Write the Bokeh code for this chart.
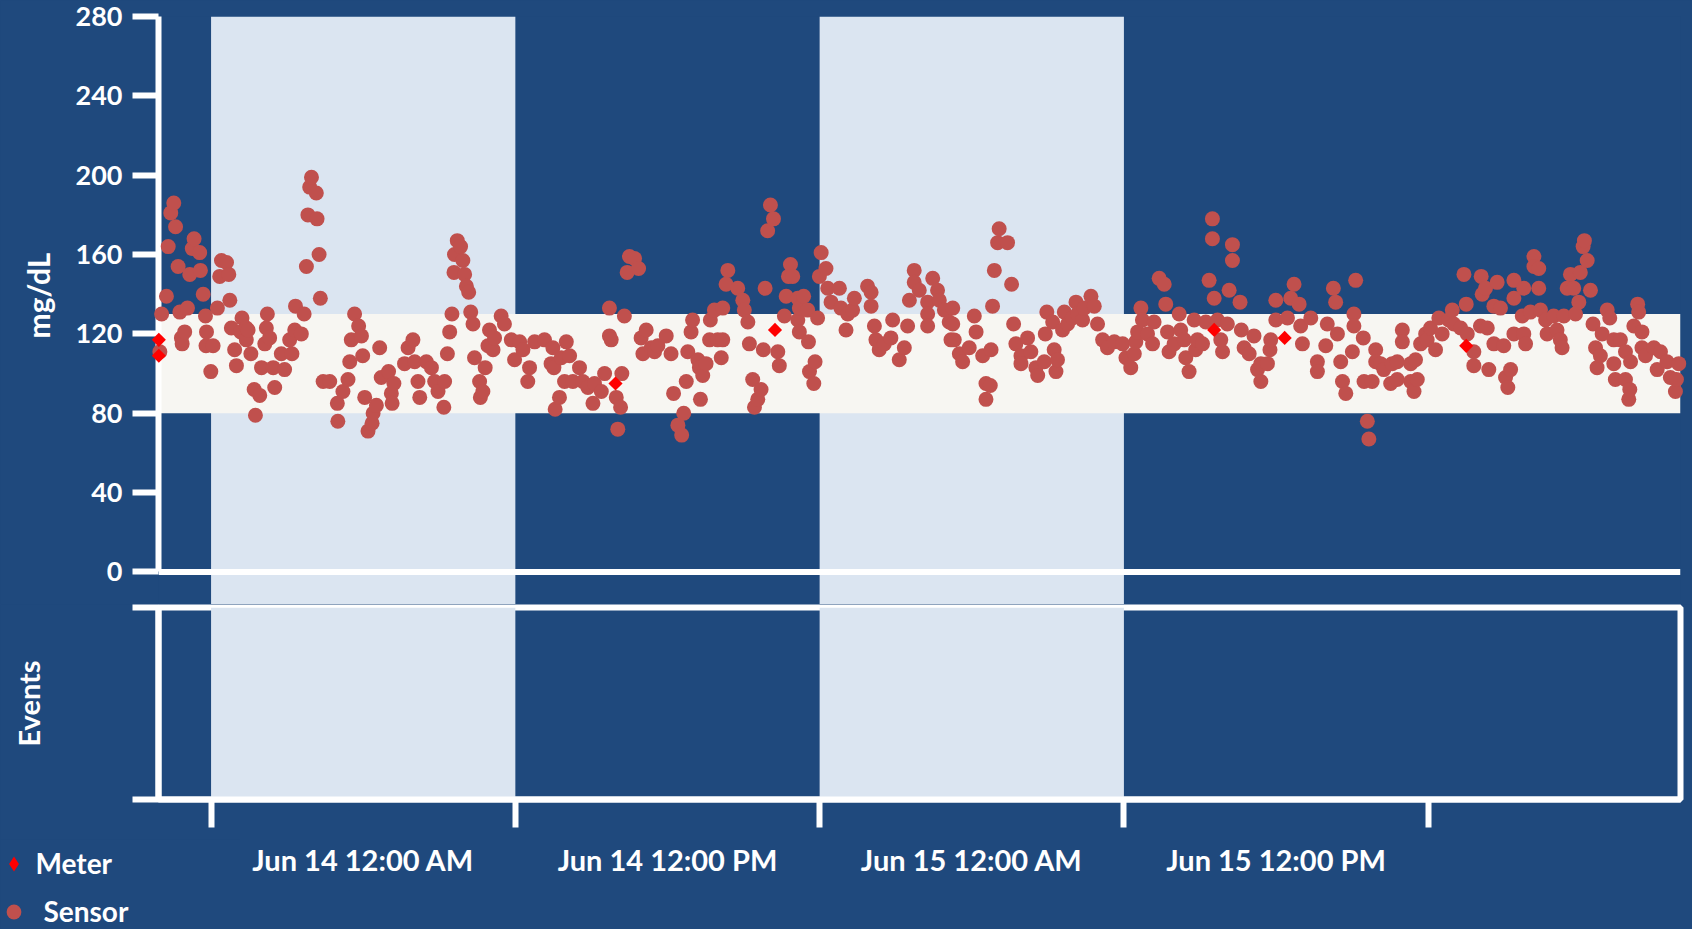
import numpy as np
import pandas as pd
from bokeh.plotting import figure
from bokeh.layouts import column
from bokeh.models import (Range1d, FixedTicker, BoxAnnotation, Span, Legend,
                          LegendItem, Title)
from bokeh.embed import file_html
from bokeh.resources import INLINE

# ---------------------------------------------------------------- data
# Sensor glucose readings: hours after Jun 14 12:00 AM, value in mg/dL
sensor_hours = [
    -2.02, -1.95, -1.76, -1.69, -1.59, -1.47, -1.40, -1.30, -1.23, -1.17,
    -1.14, -1.04, -0.93, -0.84, -0.74, -0.67, -0.45, -0.42, -0.31, -0.22,
    -0.20, -0.18, -0.01, 0.08,
    0.25, 0.34, 0.41, 0.61, 0.70, 0.74, 0.80, 0.93, 1.00, 1.17,
    1.22, 1.39, 1.39, 1.46, 1.57, 1.70, 1.75, 1.92, 1.99, 2.12,
    2.18, 2.22, 2.31, 2.45, 2.51, 2.77, 2.90, 3.10, 3.19, 3.30,
    3.33, 3.56, 3.67, 3.76, 3.82, 3.89, 3.96, 4.15, 4.18, 4.26,
    4.31, 4.42, 4.68, 4.98, 5.00, 5.20, 5.40, 5.47, 5.53, 5.66,
    5.82, 5.93, 5.98, 6.06, 6.19, 6.35, 6.39, 6.52, 6.65, 6.71,
    7.00, 7.11, 7.14, 7.21, 7.63, 7.77, 7.96, 8.03, 8.16, 8.23,
    8.49, 8.69, 8.82, 8.95, 9.18, 9.21, 9.32, 9.41, 9.50, 9.58,
    9.60, 9.71, 9.84, 9.93, 10.00, 10.07, 10.16, 10.24, 10.33, 10.39,
    10.59, 10.62, 10.72, 10.81, 10.92, 10.98, 11.12, 11.18, 11.44, 11.57,
    11.84, 11.97, 12.17, 12.30, 12.49, 12.56, 12.76, 13.15, 13.41,
    13.48, 13.52, 13.57, 13.74, 13.81, 13.94, 14.01, 14.14, 14.27, 14.53,
    14.66, 14.86, 15.06, 15.12, 15.39, 15.52, 15.71, 15.71, 15.78, 15.98,
    16.04, 16.15, 16.20, 16.30, 16.41, 16.50, 16.70, 16.86, 16.96, 17.03,
    17.16, 17.36, 17.49, 17.62, 17.95, 18.14, 18.24, 18.41, 18.56, 18.64,
    18.74, 18.80, 18.93, 18.99, 19.20, 19.26, 19.30, 19.39, 19.52, 19.66,
    19.69, 19.85, 19.98, 20.12, 20.18, 20.18, 20.31, 20.38, 20.77, 20.97,
    21.03, 21.17, 21.23, 21.36, 21.43, 21.56, 21.69, 21.78, 21.85, 21.95,
    22.06, 22.18, 22.35, 22.41, 22.61, 22.68, 22.77, 22.85, 22.94, 23.14,
    23.14, 23.20, 23.20, 23.37, 23.53, 23.56, 23.60, 23.77, 23.82, 23.92,
    23.99, 24.06, 24.25, 24.32, 24.45, 24.78, 24.84, 25.04, 25.11, 25.30,
    25.37, 25.89, 26.03, 26.03, 26.16, 26.22, 26.35, 26.55, 26.81, 26.88,
    27.14, 27.34, 27.47, 27.54, 27.73, 27.73, 27.93, 28.26, 28.26, 28.26,
    28.46, 28.65, 28.72, 28.92, 29.11, 29.18,
    29.25, 29.25, 29.31, 29.51, 29.64, 29.90, 30.10, 30.17, 30.43, 30.56,
    30.56, 30.73, 30.76, 30.82, 30.89, 31.02, 31.08, 31.41, 31.57, 31.65,
    31.74, 31.94, 31.94, 32.20, 32.33, 32.53, 32.60, 32.86, 32.90, 32.96,
    33.19, 33.25, 33.32, 33.38, 33.58, 33.65, 33.78, 33.97, 34.11, 34.17,
    34.37, 34.43, 34.70, 34.83, 34.96, 35.16, 35.35, 35.62, 35.95, 36.08,
    36.27, 36.41, 36.47, 36.54, 36.67, 36.73, 36.93, 37.13, 37.19, 37.39,
    37.59, 37.65, 37.72, 37.78, 37.98, 38.18, 38.24, 38.38, 38.44, 38.57,
    38.77, 38.83, 38.90, 39.10, 39.23, 39.36, 39.49, 39.49, 39.56, 39.69,
    39.82, 39.89, 40.08, 40.15, 40.28, 40.28, 40.58, 40.63, 40.74, 40.94,
    41.13, 41.27, 41.40, 41.40, 41.66, 41.76, 41.79, 41.99, 41.99, 42.45,
    42.58, 42.71, 42.91, 42.97,
    43.04, 43.37, 43.63, 43.63, 43.96, 44.02, 44.26, 44.35, 44.42, 44.55,
    44.62, 44.75, 45.01, 45.07, 45.07, 45.14, 45.44, 45.47, 45.60, 45.66,
    45.79, 45.93, 45.93, 46.12, 46.25, 46.52, 46.58, 46.78, 46.78, 46.98,
    46.98, 47.31, 47.31, 47.44, 47.50, 47.57, 47.70, 47.90, 47.96, 48.09,
    48.29, 48.42, 48.55, 48.81, 48.95, 49.01, 49.28, 49.41, 49.50, 49.54,
    49.80, 49.80, 50.06, 50.09, 50.13, 50.26, 50.33, 50.39, 50.59, 50.59,
    50.72, 50.85, 50.98, 51.05, 51.14, 51.25, 51.38, 51.38, 51.38, 51.71,
    51.77, 51.77, 51.84, 52.03, 52.17, 52.17, 52.36, 52.36, 52.43, 52.63,
    52.69, 52.95, 53.08, 53.21, 53.28, 53.35, 53.48, 53.61, 53.74, 53.81,
    53.94, 54.00, 54.11, 54.16, 54.27, 54.40, 54.50, 54.60, 54.66, 54.79,
    54.86, 55.06, 55.16, 55.32, 55.32, 55.38, 55.58, 55.78, 55.78, 55.91,
    55.95, 55.98, 56.11, 56.26, 56.30, 56.43, 56.43, 56.57, 56.90, 57.03,
    57.16, 57.42, 57.55, 57.75, 57.79, 57.88,
]
sensor_mgdl = [
    111, 130, 139, 164, 181, 186, 174, 154, 131, 118,
    115, 121, 133, 150, 163, 168, 161, 152, 140, 129,
    114, 121, 101, 114,
    133, 149, 157, 156, 150, 137, 123, 112, 104, 121,
    128, 123, 117, 122, 110, 92, 79, 89, 103, 115,
    123, 130, 118, 103, 93, 110, 102, 117, 110, 122,
    134, 120, 130, 154, 180, 194, 199, 191, 178, 160,
    138, 96, 96, 85, 76, 91, 97, 106, 117, 130,
    124, 119, 109, 88, 71, 75, 80, 84, 113, 98,
    101, 90, 85, 95, 105, 113, 117, 106, 96, 88,
    106, 103, 96, 91, 83, 96, 110, 121, 130, 151,
    160, 167, 164, 157, 150, 144, 141, 131, 125, 108,
    96, 88, 91, 103, 114, 122, 112, 118, 129, 125,
    117, 107, 116, 112, 96, 103, 116, 117, 105,
    113, 103, 82, 88, 108, 96, 116, 109, 96, 103,
    96, 93, 85, 95, 91, 100, 133, 119, 117, 88,
    72, 83, 100, 129, 151, 159, 158, 153, 118, 110,
    122, 113, 111, 114, 119, 110, 90, 74, 69, 80,
    96, 111, 121, 127, 107, 103, 87, 99, 105, 117,
    127, 132, 117, 108, 117, 133, 145, 152, 143, 137,
    132, 126, 115, 97, 83, 87, 92, 112, 143, 172,
    185, 178, 111, 104, 129, 139, 149, 155, 149, 138,
    127, 133, 121, 139, 132, 116, 101, 95, 106, 128,
    149, 161, 153, 143, 136, 143, 133, 122, 130, 132,
    138, 144, 141, 134, 124, 117, 112, 115, 118, 127,
    107, 113, 124, 137, 152, 146, 142, 136, 130, 124,
    148, 142, 137, 132, 126, 117,
    133, 125, 117, 110, 106, 113, 129, 121, 109, 95,
    87, 94, 112, 134, 152, 166, 173, 166, 145, 125,
    115, 109, 105, 118, 111, 103, 99, 106, 120, 131,
    126, 112, 101, 107, 122, 131, 125, 128, 136, 130,
    127, 133, 139, 134, 125, 117, 113, 116, 115, 108,
    103, 110, 116, 121, 133, 127, 120, 115, 126, 148,
    145, 135, 121, 111, 115, 130, 122, 117, 108, 101,
    127, 112, 117, 115, 126, 147, 168, 178, 138, 127,
    117, 111, 125, 142, 165, 157, 136, 122, 113, 110,
    119, 102, 105, 96, 105, 112, 117, 127, 137, 128,
    138, 145, 135, 124,
    115, 128, 106, 101, 114, 125, 143, 136, 120, 106,
    96, 90, 111, 130, 124, 147, 118, 96, 76, 67,
    96, 112, 106, 105, 102, 95, 105, 97, 106, 122,
    116, 105, 96, 91, 107, 97, 115, 120, 117, 123,
    112, 128, 120, 127, 132, 125, 123, 150, 135, 120,
    111, 104, 124, 149, 140, 143, 123, 102, 134, 115,
    146, 133, 114, 98, 93, 102, 147, 138, 120, 129,
    143, 120, 115, 131, 159, 154, 153, 143, 132, 127,
    120, 129, 122, 117, 113, 129, 143, 150, 143, 130,
    136, 151, 164, 167, 157, 142, 125, 113, 103, 109,
    120, 132, 128, 117, 105, 97, 117, 111, 97, 87,
    92, 106, 124, 135, 131, 121, 113, 109, 113, 102,
    111, 106, 98, 91, 97, 105,
]

# Finger-stick meter readings
meter_hours = [-2.06, -2.06, 15.95, 22.24, 39.56, 42.34, 49.50]
meter_mgdl = [117, 109, 95, 122, 122, 118, 114]

# Shaded overnight periods (hours after Jun 14 12:00 AM)
night_start_hours = [0, 24]
night_end_hours = [12, 36]

# Target glucose band
target_low = 80
target_high = 130

y_ticks = [0, 40, 80, 120, 160, 200, 240, 280]
tick_hours = [0, 12, 24, 36, 48]      # tick marks every 12 hours
labelled_ticks = [0, 12, 24, 36]      # intervals that carry a label

view_start_hours = -2.073
view_end_hours = 57.95

# ---------------------------------------------------------------- style
BG = "#1F497D"
NIGHT = "#DBE5F1"
TARGET = "#F7F6F2"
SENSOR = "#C0504D"
METER = "#FF0000"
WHITE = "#FFFFFF"
FONT = "Lato"

base = pd.Timestamp("2014-06-14 00:00")
HOUR_MS = 3_600_000.0
base_ms = base.value / 1e6


def to_ms(hours):
    return base_ms + np.asarray(hours, dtype=float) * HOUR_MS


x_range = Range1d(float(to_ms(view_start_hours)), float(to_ms(view_end_hours)))

# ---------------------------------------------------------------- glucose panel
top = figure(width=1692, height=604, x_range=x_range,
             y_range=Range1d(-16.4, 280), x_axis_type="datetime",
             x_axis_location=None, output_backend="svg", toolbar_location=None,
             min_border_left=157, min_border_right=12, min_border_top=16,
             min_border_bottom=0, background_fill_color=BG,
             border_fill_color=BG, outline_line_color=None)
top.grid.grid_line_color = None

for s, e in zip(night_start_hours, night_end_hours):
    top.add_layout(BoxAnnotation(left=float(to_ms(s)), right=float(to_ms(e)),
                                 fill_color=NIGHT, fill_alpha=1.0,
                                 line_color=None, level="underlay"))
top.add_layout(BoxAnnotation(bottom=target_low, top=target_high,
                             fill_color=TARGET, fill_alpha=1.0,
                             line_color=None, level="underlay"))
top.add_layout(Span(location=0, dimension="width", line_color=WHITE,
                    line_width=6))

top.scatter(x=to_ms(sensor_hours), y=sensor_mgdl, marker="circle", size=15,
            fill_color=SENSOR, line_color=None, level="overlay")
top.scatter(x=to_ms(meter_hours), y=meter_mgdl, marker="square",
            angle=np.pi / 4, size=10, fill_color=METER, line_color=None,
            level="overlay")

ya = top.yaxis[0]
ya.ticker = FixedTicker(ticks=y_ticks, minor_ticks=[])
ya.bounds = (0, 280)
ya.axis_line_color = WHITE
ya.axis_line_width = 6
ya.major_tick_line_color = WHITE
ya.major_tick_line_width = 6
ya.major_tick_out = 26
ya.major_tick_in = 0
ya.minor_tick_line_color = None
ya.major_label_standoff = 10
ya.major_label_text_color = WHITE
ya.major_label_text_font = FONT
ya.major_label_text_font_style = "bold"
ya.major_label_text_font_size = "27px"

# unit label, placed along the 0-280 part of the axis
top.add_layout(Title(text="mg/dL", align="left", offset=266, standoff=34,
                     text_color=WHITE, text_font=FONT,
                     text_font_style="bold", text_font_size="30px"), "left")

# ---------------------------------------------------------------- events panel
ev = figure(width=1692, height=325, x_range=x_range, y_range=Range1d(0, 1),
            x_axis_type="datetime", output_backend="svg",
            toolbar_location=None, min_border_left=157, min_border_right=12,
            min_border_top=3, min_border_bottom=130,
            background_fill_color=BG, border_fill_color=BG,
            outline_line_color=WHITE, outline_line_width=6)
ev.grid.grid_line_color = None

for s, e in zip(night_start_hours, night_end_hours):
    ev.add_layout(BoxAnnotation(left=float(to_ms(s)), right=float(to_ms(e)),
                                fill_color=NIGHT, fill_alpha=1.0,
                                line_color=None, level="underlay"))

ey = ev.yaxis[0]
ey.ticker = FixedTicker(ticks=[0, 1], minor_ticks=[])
ey.major_label_overrides = {0: "", 1: ""}
ey.axis_line_color = WHITE
ey.axis_line_width = 6
ey.major_tick_line_color = WHITE
ey.major_tick_line_width = 6
ey.major_tick_out = 26
ey.major_tick_in = 0
ey.minor_tick_line_color = None
ey.major_label_standoff = 0
ey.axis_label = "Events"
ey.axis_label_standoff = 87
ey.axis_label_text_color = WHITE
ey.axis_label_text_font = FONT
ey.axis_label_text_font_style = "bold"
ey.axis_label_text_font_size = "29px"

# labels sit in the middle of each 12-hour interval
label_pos = [float(to_ms(h + 6)) for h in labelled_ticks]
label_txt = [(base + pd.Timedelta(hours=h)).strftime("%b %d %I:%M %p")
             for h in labelled_ticks]

ex = ev.xaxis[0]
ex.ticker = FixedTicker(ticks=label_pos,
                        minor_ticks=[float(v) for v in to_ms(tick_hours)])
ex.major_label_overrides = dict(zip(label_pos, label_txt))
ex.axis_line_color = WHITE
ex.axis_line_width = 6
ex.major_tick_line_color = None
ex.major_tick_out = 0
ex.major_tick_in = 0
ex.minor_tick_line_color = WHITE
ex.minor_tick_line_width = 6
ex.minor_tick_out = 28
ex.minor_tick_in = 0
ex.major_label_standoff = 14
ex.major_label_text_color = WHITE
ex.major_label_text_font = FONT
ex.major_label_text_font_style = "bold"
ex.major_label_text_font_size = "29px"

# ---------------------------------------------------------------- legend strip
key = figure(width=240, height=90, x_range=Range1d(0, 1), y_range=Range1d(0, 1),
             x_axis_location=None, y_axis_location=None,
             output_backend="svg", toolbar_location=None, min_border=0,
             frame_align=False,
             background_fill_color=BG, border_fill_color=BG,
             outline_line_color=None, margin=(-90, 0, 0, 0))
key.grid.grid_line_color = None
# swatch-only renderers: a single missing value, so nothing lands in the frame
meter_key = key.scatter(x=[np.nan], y=[np.nan], marker="diamond", size=15,
                        fill_color=METER, line_color=None)
sensor_key = key.scatter(x=[np.nan], y=[np.nan], marker="circle", size=15,
                         fill_color=SENSOR, line_color=None)


def make_legend(label, renderer, loc, standoff):
    return Legend(items=[LegendItem(label=label, renderers=[renderer])],
                  location=loc, glyph_width=37, glyph_height=37, padding=0,
                  margin=0, spacing=0, label_standoff=standoff,
                  border_line_color=None, background_fill_alpha=0,
                  label_text_color=WHITE, label_text_font=FONT,
                  label_text_font_style="bold", label_text_font_size="28px")


key.add_layout(make_legend("Meter", meter_key, (-5.5, 47.5), 4))
key.add_layout(make_legend("Sensor", sensor_key, (-5.5, -0.5), 12))

layout = column(top, ev, key, spacing=0, styles={"background-color": BG})
open("out.html", "w").write(file_html(layout, INLINE))
